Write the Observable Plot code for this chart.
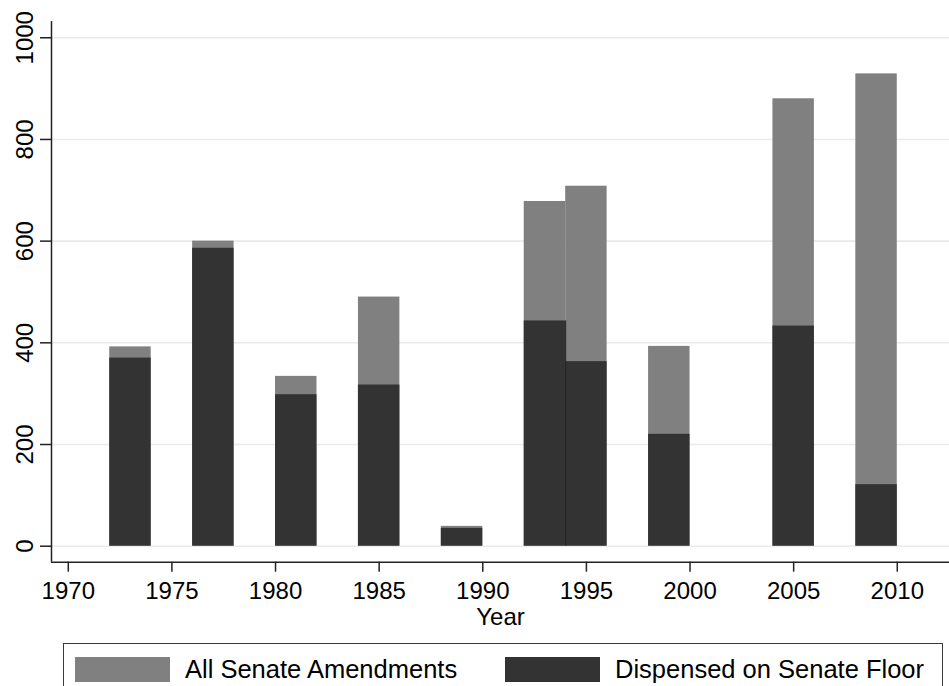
<!DOCTYPE html>
<html>
<head>
<meta charset="utf-8">
<script src="https://cdn.jsdelivr.net/npm/d3@7"></script>
<script src="https://cdn.jsdelivr.net/npm/@observablehq/plot@0.6"></script>
<style>
  html, body { margin: 0; padding: 0; background: #fff; }
  #wrap { position: relative; width: 949px; height: 686px; overflow: hidden; font-family: "Liberation Sans", Arial, sans-serif; }
  #legend { position: absolute; left: 63px; top: 643px; width: 880px; height: 60px; border: 1.5px solid #3a3a3a; box-sizing: border-box; }
  .item { position: absolute; top: 11px; display: flex; align-items: center; font-size: 25.5px; color: #000; }
  .sw { width: 95px; height: 25px; margin-right: 15px; }
</style>
</head>
<body>
<div id="wrap"><div id="chart"></div><div id="legend"></div></div>
<script>
const years = [1973, 1977, 1981, 1985, 1989, 1993, 1995, 1999, 2005, 2009];
const allAmendments = [392, 600, 334, 490, 39, 678, 708, 393, 880, 929];
const dispensed = [370, 586, 298, 317, 35, 443, 363, 220, 433, 121];
const seriesNames = ["All Senate Amendments", "Dispensed on Senate Floor"];
const seriesColors = ["#808080", "#333333"];
const xTicks = [1970, 1975, 1980, 1985, 1990, 1995, 2000, 2005, 2010];
const yTicks = [0, 200, 400, 600, 800, 1000];
const xDomain = [1969.19, 2012.52];
const yDomain = [-31.5, 1032];
const halfWidth = 1;

const rows = years.map((y, i) => ({year: y, all: allAmendments[i], disp: dispensed[i]}));

const chart = Plot.plot({
  width: 949,
  height: 686,
  marginLeft: 51,
  marginRight: 0,
  marginTop: 21,
  marginBottom: 124.3,
  style: {fontFamily: "Liberation Sans, Arial, sans-serif", fontSize: "24px", color: "#000", background: "#fff"},
  x: {domain: xDomain},
  y: {domain: yDomain},
  marks: [
    Plot.gridY(yTicks, {stroke: "#eaeaea", strokeOpacity: 1, strokeWidth: 1.6}),
    Plot.rectY(rows, {x1: d => d.year - halfWidth, x2: d => d.year + halfWidth, y1: 0, y2: "all", fill: seriesColors[0], inset: 0}),
    Plot.rectY(rows, {x1: d => d.year - halfWidth, x2: d => d.year + halfWidth, y1: 0, y2: "disp", fill: seriesColors[1], inset: 0}),
    Plot.ruleX(rows.slice(5, 6), {x: d => d.year + halfWidth, y1: 0, y2: "disp", stroke: "#222", strokeWidth: 1}),
    Plot.ruleY([yDomain[0]], {stroke: "#222", strokeWidth: 1.5}),
    Plot.ruleX([xDomain[0]], {stroke: "#222", strokeWidth: 1.5}),
    Plot.axisX(xTicks, {tickSize: 10, tickPadding: 10, tickFormat: d => String(d), stroke: "#222", strokeWidth: 1.5,
      label: "Year", labelAnchor: "center", labelArrow: "none", labelOffset: 63, fontSize: 24}),
    Plot.axisY(yTicks, {tickSize: 11, tickPadding: 8, tickRotate: -90, tickFormat: d => String(d), stroke: "#222", strokeWidth: 1.5, label: null, fontSize: 24})
  ]
});
document.getElementById("chart").appendChild(chart);

const legend = document.getElementById("legend");
const lefts = [11, 441];
seriesNames.forEach((name, i) => {
  const it = document.createElement("div");
  it.className = "item";
  it.style.left = lefts[i] + "px";
  const sw = document.createElement("div");
  sw.className = "sw";
  sw.style.background = seriesColors[i];
  const tx = document.createElement("span");
  tx.textContent = name;
  it.appendChild(sw); it.appendChild(tx);
  legend.appendChild(it);
});
</script>
</body>
</html>
